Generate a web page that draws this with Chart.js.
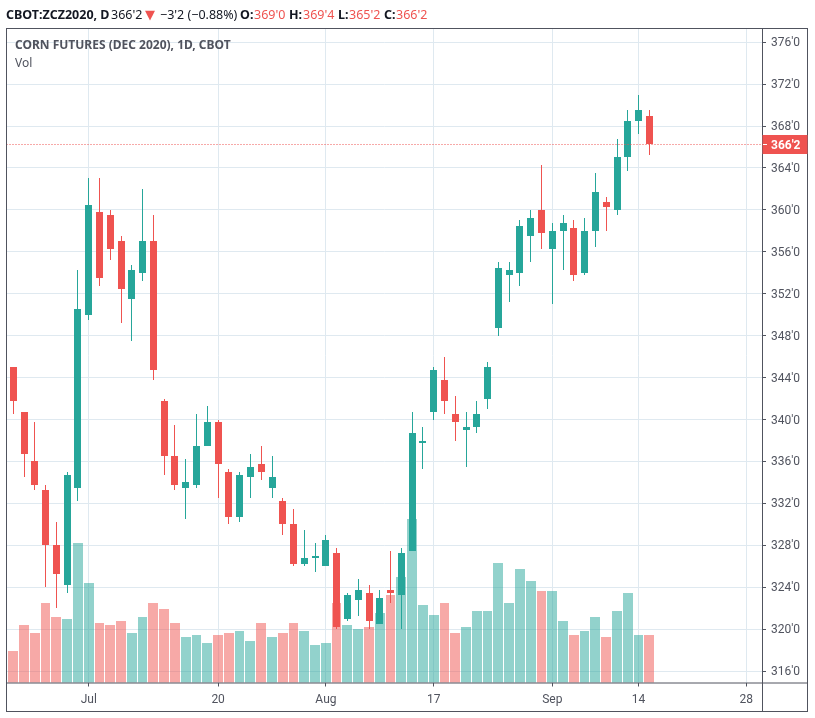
<!DOCTYPE html>
<html>
<head>
<meta charset="utf-8">
<title>CBOT:ZCZ2020</title>
<script src="https://cdn.jsdelivr.net/npm/chart.js@4"></script>
<style>
  html, body { margin: 0; padding: 0; background: #fff; }
  #wrap { position: relative; width: 815px; height: 718px; overflow: hidden; font-family: "Noto Sans", sans-serif; }
  #chart { position: absolute; left: 0; top: 0; }
  .t { position: absolute; white-space: nowrap; line-height: 16px; }
  .hd { top: 7px; font-size: 12.5px; color: #131722; }
  .b { font-weight: 700; }
  .r { color: #ef5350; }
  .lg { left: 15px; font-size: 12px; color: #50535e; }
</style>
</head>
<body>
<div id="wrap">
  <canvas id="chart" width="815" height="718"></canvas>
  <span class="t hd b" style="left:6px">CBOT:ZCZ2020, D</span>
  <span class="t hd" style="left:111px">366'2</span>
  <span class="t hd r" style="left:145px;font-family:'DejaVu Sans';font-size:13px">▼</span>
  <span class="t hd" style="left:160px">−3'2 (−0.88%)</span>
  <span class="t hd b" style="left:240px">O:</span>
  <span class="t hd r" style="left:254px">369'0</span>
  <span class="t hd b" style="left:289px">H:</span>
  <span class="t hd r" style="left:303px">369'4</span>
  <span class="t hd b" style="left:338px">L:</span>
  <span class="t hd r" style="left:349px">365'2</span>
  <span class="t hd b" style="left:384px">C:</span>
  <span class="t hd r" style="left:396px">366'2</span>
  <span class="t lg b" style="top:37px">CORN FUTURES (DEC 2020), 1D, CBOT</span>
  <span class="t lg" style="top:55px">Vol</span>
</div>
<script>
const dates = [
  "Jun 22", "Jun 23", "Jun 24", "Jun 25", "Jun 26", "Jun 29", "Jun 30",
  "Jul 1", "Jul 2", "Jul 6", "Jul 7", "Jul 8", "Jul 9", "Jul 10", "Jul 13", "Jul 14", "Jul 15", "Jul 16", "Jul 17",
  "Jul 20", "Jul 21", "Jul 22", "Jul 23", "Jul 24", "Jul 27", "Jul 28", "Jul 29", "Jul 30", "Jul 31",
  "Aug 3", "Aug 4", "Aug 5", "Aug 6", "Aug 7", "Aug 10", "Aug 11", "Aug 12", "Aug 13", "Aug 14",
  "Aug 17", "Aug 18", "Aug 19", "Aug 20", "Aug 21", "Aug 24", "Aug 25", "Aug 26", "Aug 27", "Aug 28", "Aug 31",
  "Sep 1", "Sep 2", "Sep 3", "Sep 4", "Sep 8", "Sep 9", "Sep 10", "Sep 11", "Sep 14", "Sep 15",
];
const opens = [
  345, 340.75, 336, 333.25, 328, 324.25, 333.5, 350, 359.75, 359.5,
  357, 351.5, 354, 357, 341.75, 336.5, 333.5, 333.75, 337.5, 339.75,
  335, 330.75, 334.5, 335.75, 333.5, 332.25, 330, 326.25, 326.75, 326,
  327.25, 321, 322.75, 323.5, 320.5, 323.75, 323.25, 327.5, 337.75, 340.75,
  343.75, 340.5, 339, 339.25, 342, 348.75, 353.75, 354, 357.5, 360,
  356.25, 358, 358.25, 354, 358, 360.75, 360, 365, 368.5, 369,
];
const highs = [
  345, 340.75, 339.75, 333.75, 330.25, 335, 354.25, 363, 363, 360,
  357.5, 354.75, 362, 359.5, 342, 339.5, 336.25, 340.5, 341.25, 340,
  335.25, 335, 336.75, 337.5, 336.5, 332.5, 331.5, 329.5, 328.25, 329,
  327.75, 323.5, 324.75, 324.25, 323.75, 327.5, 327.75, 340.75, 339.25, 345,
  346, 342.25, 340.75, 341.75, 345.5, 355, 355, 359, 360, 364.25,
  358.75, 359.5, 359, 359.25, 363.5, 361.25, 366.75, 369.5, 371, 369.5,
];
const lows = [
  340.5, 334.5, 333.25, 324, 322, 323.5, 332.25, 349.5, 352.75, 355.25,
  349.25, 347.5, 353.25, 343.75, 334.75, 333.25, 330.5, 333.5, 337.5, 332.5,
  330, 330.25, 332.5, 334.25, 332.5, 329, 326, 326, 325.5, 326,
  320, 320.75, 321.25, 320, 320.5, 322.5, 320, 327.5, 335.25, 340,
  340.5, 338, 335.5, 338.75, 341, 348, 351.25, 352.75, 355, 356.25,
  351, 354.25, 353.25, 353.75, 356.5, 358, 359.5, 363.75, 367.25, 365.25,
];
const closes = [
  341.75, 336.75, 333.75, 328, 325.25, 334.75, 350.5, 360.5, 353.5, 356.25,
  352.5, 354.25, 357, 344.75, 336.5, 333.75, 334, 337.5, 339.75, 335.75,
  330.75, 334.75, 335.5, 335, 334.5, 330, 326.25, 326.75, 327, 328.5,
  320.25, 323.25, 323.75, 320.75, 323, 323.5, 327.25, 338.75, 338, 344.75,
  341.75, 339.75, 339.25, 340.5, 345, 354.5, 354.25, 358.5, 359.25, 357.75,
  358, 358.75, 353.75, 358, 361.75, 360.25, 365, 368.5, 369.5, 366.25,
];
// volume in thousands of contracts, estimated
const volumes = [
  48, 86, 75, 119, 98, 95, 210, 149, 90, 86,
  93, 75, 99, 119, 111, 89, 68, 71, 59, 72,
  75, 77, 62, 90, 68, 74, 90, 78, 56, 59,
  120, 87, 80, 83, 105, 131, 158, 245, 116, 102,
  119, 75, 83, 107, 108, 179, 120, 170, 152, 138,
  138, 93, 72, 78, 98, 68, 108, 135, 72, 71,
];
const priceTicks = [316, 320, 324, 328, 332, 336, 340, 344, 348, 352, 356, 360, 364, 368, 372, 376];
const timeTicks = [7, 19, 29, 39, 50, 58, 68];
const timeLabels = ["Jul", "20", "Aug", "17", "Sep", "14", "28"];
const lastPrice = "366'2";

const UP = "#26a69a";
const DOWN = "#ef5350";
const UP_VOL = "rgba(38,166,154,0.5)";
const DOWN_VOL = "rgba(239,83,80,0.5)";
const GRID = "#dfe9f0";
const AXIS = "#50535e";

const isUp = (i) => closes[i] >= opens[i];

// snap bars to whole pixels so bodies and wicks stay crisp,
// volume bars keep a 1px gap to the next bar
const pixelSnap = {
  id: "pixelSnap",
  afterDatasetsUpdate(chart) {
    const step = chart.scales.x.getPixelForValue(1) - chart.scales.x.getPixelForValue(0);
    chart.data.datasets.forEach((ds, n) => {
      chart.getDatasetMeta(n).data.forEach((bar) => {
        if (ds.yAxisID === "vol") {
          const left = Math.round(bar.x - 5);
          const right = Math.round(bar.x - 5 + step) - 1;
          bar.x = (left + right) / 2;
          bar.width = right - left;
        } else {
          bar.x = Math.floor(bar.x) + 0.5;
        }
        bar.y = Math.round(bar.y);
        bar.base = Math.round(bar.base);
      });
    });
  },
  beforeDraw(chart) {
    // price labels sit a little lower than canvas middle
    chart.scales.y.getLabelItems(chart.chartArea).forEach((item) => {
      item.options.translation[1] += 1;
    });
  },
};

// box around the pane, last price line and its tag
const paneFrame = {
  id: "paneFrame",
  afterDatasetsDraw(chart) {
    const { ctx, chartArea } = chart;
    const y = Math.floor(chart.scales.y.getPixelForValue(closes[closes.length - 1])) + 0.5;
    ctx.save();
    ctx.strokeStyle = DOWN;
    ctx.setLineDash([1, 2]);
    ctx.beginPath();
    ctx.moveTo(chartArea.left, y);
    ctx.lineTo(chartArea.right, y);
    ctx.stroke();
    ctx.setLineDash([]);
    ctx.strokeStyle = AXIS;
    ctx.strokeRect(6.5, 28.5, 801, 683);
    ctx.beginPath();
    ctx.moveTo(chartArea.right + 0.5, 28.5);
    ctx.lineTo(chartArea.right + 0.5, 711.5);
    ctx.moveTo(6.5, chartArea.bottom + 0.5);
    ctx.lineTo(807.5, chartArea.bottom + 0.5);
    ctx.stroke();
    ctx.fillStyle = DOWN;
    ctx.fillRect(chartArea.right + 0.5, y - 9.5, 45, 19);
    ctx.strokeStyle = "#fff";
    ctx.beginPath();
    ctx.moveTo(chartArea.right + 1, y);
    ctx.lineTo(chartArea.right + 5, y);
    ctx.stroke();
    ctx.fillStyle = "#fff";
    ctx.font = '700 12px "Roboto"';
    ctx.textBaseline = "middle";
    ctx.fillText(lastPrice, chartArea.right + 9, y + 1);
    ctx.restore();
  },
};

new Chart(document.getElementById("chart").getContext("2d"), {
  type: "bar",
  data: {
    datasets: [
      {
        // bodies
        data: dates.map((d, i) => ({ x: i, y: [opens[i], closes[i]] })),
        backgroundColor: dates.map((d, i) => (isUp(i) ? UP : DOWN)),
        barThickness: 7,
        inflateAmount: 0,
        grouped: false,
        yAxisID: "y",
        order: 1,
      },
      {
        // wicks
        data: dates.map((d, i) => ({ x: i, y: [lows[i], highs[i]] })),
        backgroundColor: dates.map((d, i) => (isUp(i) ? UP : DOWN)),
        barThickness: 1,
        inflateAmount: 0,
        grouped: false,
        yAxisID: "y",
        order: 2,
      },
      {
        data: dates.map((d, i) => ({ x: i, y: volumes[i] })),
        backgroundColor: dates.map((d, i) => (isUp(i) ? UP_VOL : DOWN_VOL)),
        barThickness: 10,
        inflateAmount: 0,
        grouped: false,
        yAxisID: "vol",
        order: 3,
      },
    ],
  },
  options: {
    responsive: false,
    animation: false,
    events: [],
    layout: { padding: { left: 6.5, top: 28.5, right: 7, bottom: 6.5 } },
    plugins: { legend: { display: false }, tooltip: { enabled: false } },
    scales: {
      x: {
        type: "linear",
        min: -0.63,
        max: 69.45,
        offset: false,
        afterBuildTicks(scale) {
          scale.ticks = timeTicks.map((v) => ({ value: v }));
        },
        afterFit(scale) {
          scale.height = 29;
        },
        border: { display: false },
        grid: { offset: false, color: GRID, tickColor: AXIS, tickLength: 4 },
        ticks: {
          autoSkip: false,
          maxRotation: 0,
          padding: 6,
          color: AXIS,
          font: { family: "Roboto", size: 12 },
          callback: (v) => timeLabels[timeTicks.indexOf(v)],
        },
      },
      y: {
        position: "right",
        min: 314.92,
        max: 377.3,
        afterBuildTicks(scale) {
          scale.ticks = priceTicks.map((v) => ({ value: v }));
        },
        afterFit(scale) {
          scale.width = 46;
        },
        border: { display: false },
        grid: { color: GRID, tickColor: AXIS, tickLength: 4 },
        ticks: {
          padding: 5,
          color: AXIS,
          font: { family: "Roboto", size: 12 },
          callback: (v) => v + "'0",
        },
      },
      vol: {
        display: false,
        min: 0,
        max: 981,
      },
    },
  },
  plugins: [pixelSnap, paneFrame],
});
</script>
</body>
</html>
